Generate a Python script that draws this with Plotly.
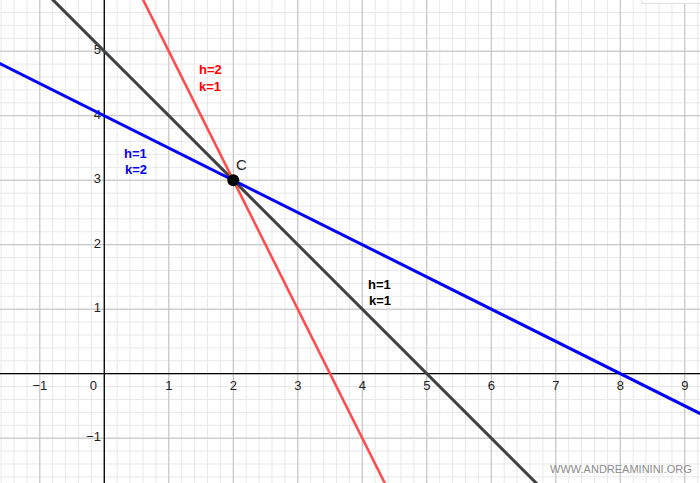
import numpy as np
import plotly.graph_objects as go

# lines a*x + b*y = c  (family through C)
line_names = ["h=1 k=1", "h=2 k=1", "h=1 k=2"]
line_a = [1, 2, 1]
line_b = [1, 1, 2]
line_c = [5, 7, 8]
line_colors = ["#404040", "#ff4d4d", "#0000ff"]
line_widths = [3, 2.6, 3]

point_C = (2, 3)

x_ticks = [-1, 0, 1, 2, 3, 4, 5, 6, 7, 8, 9]
y_ticks = [-1, 1, 2, 3, 4, 5]

labels_text = ["<b>h=2</b>", "<b>k=1</b>", "<b>h=1</b>", "<b>k=2</b>", "<b>h=1</b>", "<b>k=1</b>"]
labels_x = [1.64, 1.64, 0.49, 0.49, 4.27, 4.27]
labels_y = [4.71, 4.45, 3.42, 3.16, 1.39, 1.14]
labels_col = ["#ff0000", "#ff0000", "#0000ff", "#0000ff", "#000000", "#000000"]

x0, x1 = -1.617, 9.236
y0, y1 = -1.695, 5.794

fig = go.Figure()

# grid
minor_x = np.arange(-1.6, 9.3, 0.2)
minor_y = np.arange(-1.6, 5.8, 0.2)
for v in minor_x:
    fig.add_shape(type="line", x0=v, x1=v, y0=y0, y1=y1, line=dict(color="#e8e8e8", width=1), layer="below")
for v in minor_y:
    fig.add_shape(type="line", x0=x0, x1=x1, y0=v, y1=v, line=dict(color="#e8e8e8", width=1), layer="below")
for v in range(-1, 10):
    fig.add_shape(type="line", x0=v, x1=v, y0=y0, y1=y1, line=dict(color="#c0c0c0", width=1), layer="below")
for v in range(-1, 6):
    fig.add_shape(type="line", x0=x0, x1=x1, y0=v, y1=v, line=dict(color="#c0c0c0", width=1), layer="below")
fig.add_shape(type="line", x0=0, x1=0, y0=y0, y1=y1, line=dict(color="black", width=1.3), layer="below")
fig.add_shape(type="line", x0=x0, x1=x1, y0=0, y1=0, line=dict(color="black", width=1.3), layer="below")

# tick labels
fig.add_trace(go.Scatter(
    x=[v + (-0.17 if v == 0 else 0) for v in x_ticks], y=[-0.2] * len(x_ticks),
    mode="text", text=[str(v).replace("-", "\u2212") for v in x_ticks],
    textfont=dict(family="Liberation Sans", size=13, color="#222"),
    showlegend=False, hoverinfo="skip"))
fig.add_trace(go.Scatter(
    x=[-0.05] * len(y_ticks), y=y_ticks, mode="text",
    text=[str(v).replace("-", "\u2212") for v in y_ticks],
    textposition="middle left",
    textfont=dict(family="Liberation Sans", size=13, color="#222"),
    showlegend=False, hoverinfo="skip"))

# lines
xs = np.array([x0 - 1, x1 + 1])
for a, b, c, col, w, name in zip(line_a, line_b, line_c, line_colors, line_widths, line_names):
    fig.add_trace(go.Scatter(x=xs, y=(c - a * xs) / b, mode="lines",
                             line=dict(color=col, width=w), name=name,
                             showlegend=False))

# point C
fig.add_trace(go.Scatter(x=[point_C[0]], y=[point_C[1]], mode="markers",
                         marker=dict(color="black", size=12),
                         showlegend=False))
fig.add_annotation(x=2.13, y=3.24, text="C", showarrow=False,
                   font=dict(family="Liberation Sans", size=15, color="#222"))

for t, lx, ly, col in zip(labels_text, labels_x, labels_y, labels_col):
    fig.add_annotation(x=lx, y=ly, text=t, showarrow=False,
                       font=dict(family="Liberation Sans", size=13, color=col))

fig.add_annotation(x=0.991, y=0.012, xref="paper", yref="paper", xanchor="right",
                   yanchor="bottom", text="WWW.ANDREAMININI.ORG", showarrow=False,
                   font=dict(family="Liberation Sans", size=11, color="#8c8c8c"))

# little white tab at the top right (toolbar edge)
fig.add_shape(type="rect", xref="paper", yref="paper", x0=0.917, x1=1.01, y0=0.993, y1=1.01,
              fillcolor="white", line=dict(color="#dddddd", width=1))

fig.update_layout(
    width=700, height=483,
    margin=dict(l=0, r=0, t=0, b=0),
    plot_bgcolor="white", paper_bgcolor="white",
    xaxis=dict(range=[x0, x1], showgrid=False, zeroline=False, showticklabels=False, fixedrange=True),
    yaxis=dict(range=[y0, y1], showgrid=False, zeroline=False, showticklabels=False, fixedrange=True),
)

fig.write_html("out.html", config={"displayModeBar": False},
               post_script="document.body.style.margin='0';")
